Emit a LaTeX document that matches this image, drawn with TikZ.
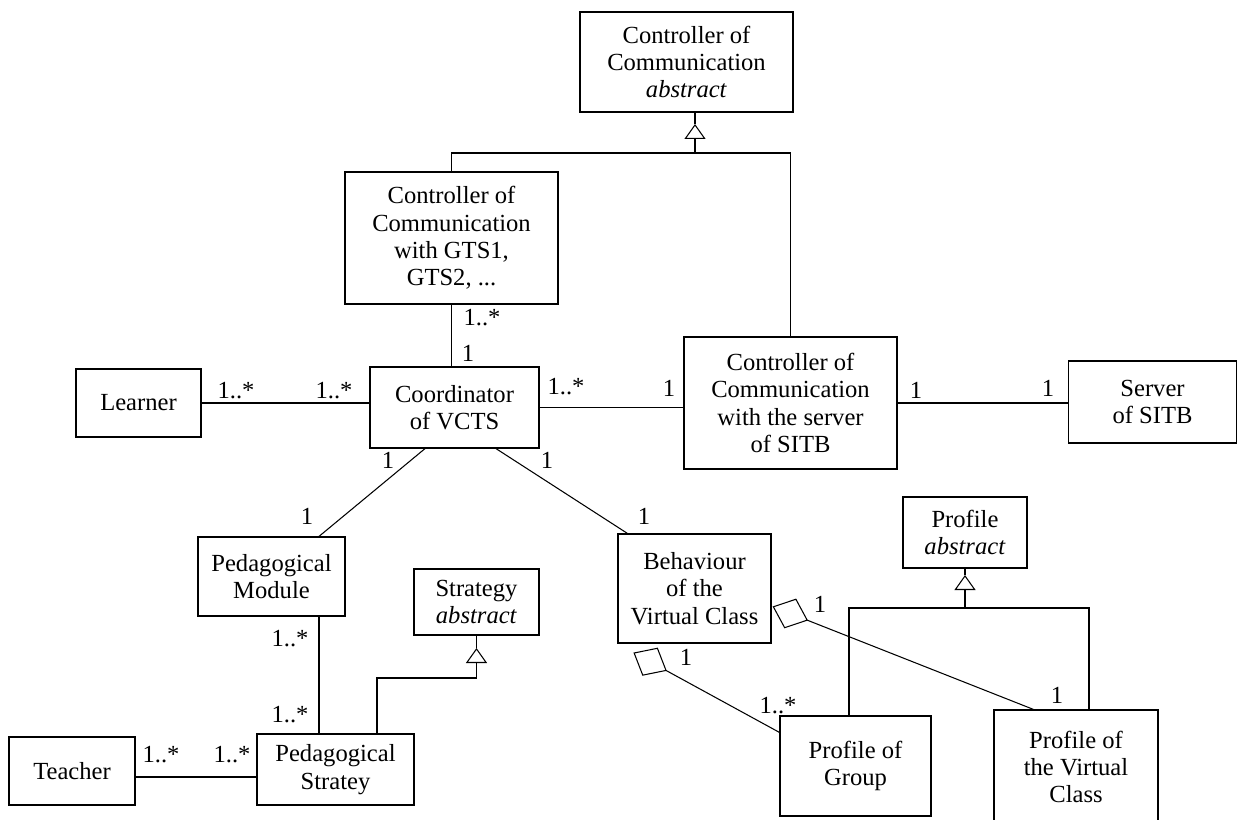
\documentclass[tikz,border=0pt]{standalone}
\usepackage{fontspec}
\setmainfont{Liberation Serif}
\usetikzlibrary{arrows.meta}

\begin{document}
\begin{tikzpicture}[x=0.02cm,y=-0.02cm,line width=0.6pt,
    font=\fontsize{14pt}{15.6pt}\selectfont,
    box/.style={draw,line width=0.7pt,align=center,inner sep=0pt},
    mult/.style={inner sep=0pt},
    gen/.style={-{Triangle[open,length=0.3cm,width=0.42cm]}},
    agg/.style={{Diamond[open,length=0.76cm,width=0.64cm]}-}]
    \useasboundingbox (0,0) rectangle (1239,820);
    \node[box,minimum width=4.26cm,minimum height=2cm] (cca) at (686.5,62) {Controller of\\Communication\\\textit{abstract}};
    \node[box,minimum width=4.26cm,minimum height=2.64cm] (ccg) at (451.5,238) {Controller of\\Communication\\with GTS1,\\GTS2, ...};
    \node[box,minimum width=2.5cm,minimum height=1.36cm] (learner) at (138.5,403) {Learner};
    \node[box,minimum width=3.38cm,minimum height=1.62cm] (coord) at (454.5,407.5) {Coordinator\\of VCTS};
    \node[box,minimum width=4.26cm,minimum height=2.64cm] (ccs) at (790.5,403) {Controller of\\Communication\\with the server\\of SITB};
    \node[box,minimum width=3.36cm,minimum height=1.64cm] (server) at (1152.5,402) {Server\\of SITB};
    \node[box,minimum width=2.94cm,minimum height=1.58cm] (pm) at (271.5,576.5) {Pedagogical\\Module};
    \node[box,minimum width=3.06cm,minimum height=2.18cm] (bvc) at (694.5,588.5) {Behaviour\\of the\\Virtual Class};
    \node[box,minimum width=2.5cm,minimum height=1.32cm] (strat) at (476.5,602) {Strategy\\\textit{abstract}};
    \node[box,minimum width=2.48cm,minimum height=1.42cm] (profile) at (965,532.5) {Profile\\\textit{abstract}};
    \node[box,minimum width=2.52cm,minimum height=1.36cm] (teacher) at (72,771) {Teacher};
    \node[box,minimum width=3.14cm,minimum height=1.42cm] (ps) at (335.5,769.5) {Pedagogical\\Stratey};
    \node[box,minimum width=3.02cm,minimum height=2cm] (pg) at (855.5,766) {Profile of\\Group};
    \node[box,minimum width=3.28cm,minimum height=2.28cm] (pvc) at (1076,767) {Profile of\\the Virtual\\Class};

    \draw (learner.east) -- (learner.east -| coord.west);
    \draw (coord.east) -- (coord.east -| ccs.west);
    \draw (ccs.east) -- (ccs.east -| server.west);
    \draw (ccg.south) -- (ccg.south |- coord.north);
    \draw ([shift={(-29.5,0)}]coord.south) -- ([shift={(47.5,0)}]pm.north);
    \draw ([shift={(41.5,0)}]coord.south) -- ([shift={(10,0)}]bvc.north west);
    \draw ([shift={(47.5,0)}]pm.south) -- ([shift={(47.5,0)}]pm.south |- ps.north);
    \draw ([shift={(0,6)}]teacher.east) -- ([shift={(0,6)}]teacher.east -| ps.west);

    \coordinate (ccaTip) at (695,124);
    \coordinate (ccaBar) at (695,153);
    \draw (ccaTip |- cca.south) -- (ccaTip);
    \draw[gen] (ccaBar) -- (ccaTip);
    \draw (ccg.north) -- (ccg.north |- ccaBar) -- (ccs.north |- ccaBar) -- (ccs.north);

    \coordinate (stTip) at (476.5,648);
    \coordinate (stBar) at (377,678);
    \draw (strat.south) -- (stTip);
    \draw[gen] (stBar |- ps.north) -- (stBar) -- (stBar -| stTip) -- (stTip);

    \coordinate (prTip) at (965,575);
    \coordinate (prBar) at (965,608);
    \coordinate (prL) at (849,608);
    \coordinate (prR) at (1089,608);
    \draw (profile.south) -- (prTip);
    \draw[gen] (prBar) -- (prTip);
    \draw (prL |- pg.north) -- (prL) -- (prR) -- (prR |- pvc.north);

    \draw[agg] ([shift={(16,9)}]bvc.south west) -- ([shift={(0,17)}]pg.north west);
    \draw[agg] ([shift={(1,18)}]bvc.east) -- ([shift={(40,0)}]pvc.north west);

    \node[mult] (m1) at (482,318) {1..*};
    \node[mult] (m2) at (468,353) {1};
    \node[mult] (m3) at (236,391) {1..*};
    \node[mult] (m4) at (334,391) {1..*};
    \node[mult] (m5) at (566,387) {1..*};
    \node[mult] (m6) at (669,388) {1};
    \node[mult] (m7) at (916,390) {1};
    \node[mult] (m8) at (1048,388) {1};
    \node[mult] (m9) at (388,460) {1};
    \node[mult] (m10) at (547,460) {1};
    \node[mult] (m11) at (307,516) {1};
    \node[mult] (m12) at (644,516) {1};
    \node[mult] (m13) at (290,639) {1..*};
    \node[mult] (m14) at (290,715) {1..*};
    \node[mult] (m15) at (161,755) {1..*};
    \node[mult] (m16) at (232,755) {1..*};
    \node[mult] (m17) at (686,657) {1};
    \node[mult] (m18) at (778,706) {1..*};
    \node[mult] (m19) at (820,604) {1};
    \node[mult] (m20) at (1057,695) {1};
\end{tikzpicture}
\end{document}
